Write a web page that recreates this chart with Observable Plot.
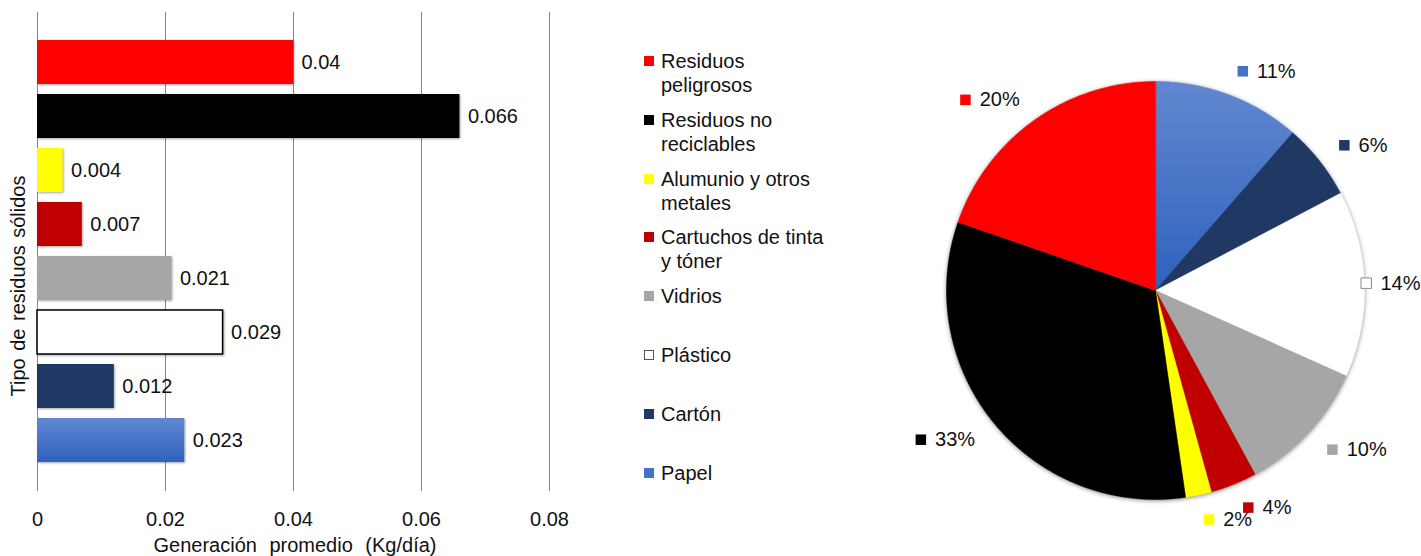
<!DOCTYPE html>
<html>
<head>
<meta charset="utf-8">
<script src="https://cdn.jsdelivr.net/npm/d3@7"></script>
<script src="https://cdn.jsdelivr.net/npm/@observablehq/plot@0.6"></script>
<style>
  body { margin: 0; background: #fff; font-family: "Liberation Sans", Arial, sans-serif; color: #111; }
  #wrap { position: relative; width: 1421px; height: 556px; overflow: hidden; background: #fff; }
  .abs { position: absolute; }
  .ytitle { font-size: 20px; white-space: nowrap; word-spacing: 2px; transform: translate(-50%, -50%) rotate(-90deg); }
  .xtitle { font-size: 20px; white-space: nowrap; word-spacing: 7px; transform: translate(-50%, -50%); }
  .legend-item { position: absolute; font-size: 20px; line-height: 24px; padding-left: 17px; }
  .legend-item .sw { position: absolute; left: 0; top: 7px; width: 10px; height: 10px; box-sizing: border-box; }
</style>
</head>
<body>
<svg width="0" height="0" style="position:absolute">
  <defs>
    <linearGradient id="papelGrad" x1="0" y1="0" x2="0" y2="1">
      <stop offset="0" stop-color="#6287D0"></stop>
      <stop offset="1" stop-color="#2E62BE"></stop>
    </linearGradient>
  </defs>
</svg>
<div id="wrap"></div>
<script>
// ---------- data ----------
const categories = ["Residuos peligrosos", "Residuos no reciclables", "Alumunio y otros metales", "Cartuchos de tinta y tóner", "Vidrios", "Plástico", "Cartón", "Papel"];
const legendLines = [["Residuos", "peligrosos"], ["Residuos no", "reciclables"], ["Alumunio y otros", "metales"], ["Cartuchos de tinta", "y tóner"], ["Vidrios"], ["Plástico"], ["Cartón"], ["Papel"]];
const values = [0.04, 0.066, 0.004, 0.007, 0.021, 0.029, 0.012, 0.023];
const valueLabels = ["0.04", "0.066", "0.004", "0.007", "0.021", "0.029", "0.012", "0.023"];
const fills = ["#FF0000", "#000000", "#FFFF00", "#C00000", "#A6A6A6", "#FFFFFF", "#203864", "url(#papelGrad)"];
const legendFills = ["#FF0000", "#000000", "#FFFF00", "#C00000", "#A6A6A6", "#FFFFFF", "#203864", "#4472C4"];
const xTicks = [0, 0.02, 0.04, 0.06, 0.08];
const xTickLabels = ["0", "0.02", "0.04", "0.06", "0.08"];
const xTitle = "Generación promedio (Kg/día)";
const yTitle = "Tipo de residuos sólidos";

// pie (clockwise from 12 o'clock)
const pieOrder = ["Papel", "Cartón", "Plástico", "Vidrios", "Cartuchos de tinta y tóner", "Alumunio y otros metales", "Residuos no reciclables", "Residuos peligrosos"];
const pieShares = [11.4, 5.9, 14.4, 10.4, 3.6, 2.0, 32.6, 19.7];
const pieLabels = ["11%", "6%", "14%", "10%", "4%", "2%", "33%", "20%"];

const FONT = "Liberation Sans, Arial, sans-serif";
const wrap = document.getElementById("wrap");

// ---------- bar chart ----------
const barData = categories.map((c, i) => ({cat: c, v: values[i], label: valueLabels[i], fill: fills[i], stroke: c === "Plástico" ? "#000000" : "none"}));
const bar = Plot.plot({
  width: 600, height: 556,
  marginLeft: 37, marginRight: 51, marginTop: 12, marginBottom: 65,
  style: {fontFamily: FONT, fontSize: "20px", color: "#111", background: "transparent", overflow: "visible"},
  x: {domain: [0, 0.08]},
  y: {domain: categories, paddingInner: 0.176, paddingOuter: 0.47, axis: null},
  color: {type: "identity"},
  marks: [
    Plot.gridX(xTicks, {stroke: "#858585", strokeOpacity: 1, strokeWidth: 1}),
    Plot.axisX(xTicks, {tickSize: 0, tickPadding: 20, fontSize: 20, label: null, tickFormat: d => xTickLabels[xTicks.indexOf(d)]}),
    Plot.barX(barData, {x: "v", y: "cat", fill: "fill", stroke: "stroke", strokeWidth: 1.5}),
    Plot.text(barData, {x: "v", y: "cat", text: "label", dx: 8, textAnchor: "start", fontSize: 20, fill: "#111"})
  ]
});
bar.classList.add("abs");
bar.style.left = "0px"; bar.style.top = "0px";
wrap.appendChild(bar);
bar.querySelectorAll('g[aria-label="bar"]').forEach(g => g.style.filter = "drop-shadow(1.5px 1.5px 1px rgba(0,0,0,0.35))");

const yt = document.createElement("div");
yt.className = "abs ytitle"; yt.textContent = yTitle;
yt.style.left = "18px"; yt.style.top = "286px";
wrap.appendChild(yt);
const xt = document.createElement("div");
xt.className = "abs xtitle"; xt.textContent = xTitle;
xt.style.left = "295px"; xt.style.top = "545px";
wrap.appendChild(xt);

// ---------- legend ----------
categories.forEach((c, i) => {
  const item = document.createElement("div");
  item.className = "legend-item";
  item.style.left = "644px";
  item.style.top = (49 + i * 58.8) + "px";
  const sw = document.createElement("span");
  sw.className = "sw";
  sw.style.background = legendFills[i];
  if (c === "Plástico") sw.style.border = "1px solid #555";
  item.appendChild(sw);
  item.insertAdjacentHTML("beforeend", legendLines[i].join("<br>"));
  wrap.appendChild(item);
});

// ---------- pie ----------
const PW = 541, PH = 556, CX = 275, CY = 290, R = 209;
const pieFill = pieOrder.map(c => fills[categories.indexOf(c)]);
const pieMarker = pieOrder.map(c => legendFills[categories.indexOf(c)]);
const arcs = d3.pie().sort(null)(pieShares);
const slicePts = [];
arcs.forEach((a, i) => {
  const n = Math.max(2, Math.ceil((a.endAngle - a.startAngle) / 0.01));
  slicePts.push({k: i, x: 0, y: 0});
  for (let j = 0; j <= n; j++) {
    const t = a.startAngle + (a.endAngle - a.startAngle) * j / n;
    slicePts.push({k: i, x: R * Math.sin(t), y: -R * Math.cos(t)});
  }
});
const ctx = document.createElement("canvas").getContext("2d");
ctx.font = "20px 'Liberation Sans', Arial, sans-serif";
const RA = R * 1.12, MARK = 10.5, GAP = 9;
const pieLab = arcs.map((a, i) => {
  const m = (a.startAngle + a.endAngle) / 2;
  const ax = RA * Math.sin(m), ay = -RA * Math.cos(m);
  const w = ctx.measureText(pieLabels[i]).width;
  const box = MARK + GAP + w;
  let left = Math.sin(m) >= 0 ? ax : ax - box;
  left = Math.min(left, (PW - CX) - box - 1);
  return {mx: left + MARK / 2, tx: left + MARK + GAP, y: ay, t: pieLabels[i], f: pieMarker[i], s: pieOrder[i] === "Plástico" ? "#8a8a8a" : "none"};
});
const pie = Plot.plot({
  width: PW, height: PH, margin: 0,
  style: {fontFamily: FONT, fontSize: "20px", color: "#111", background: "transparent", overflow: "visible"},
  x: {domain: [-CX, PW - CX], range: [0, PW], axis: null},
  y: {domain: [-CY, PH - CY], range: [0, PH], axis: null},
  color: {type: "identity"},
  marks: [
    Plot.line(slicePts, {x: "x", y: "y", z: "k", fill: d => pieFill[d.k], stroke: d => pieFill[d.k], strokeWidth: 0.5, curve: "linear-closed"}),
    Plot.dot(pieLab, {x: "mx", y: "y", symbol: "square", r: MARK / Math.sqrt(Math.PI), fill: "f", stroke: "s", strokeWidth: 1}),
    Plot.text(pieLab, {x: "tx", y: "y", text: "t", textAnchor: "start", fontSize: 20, fill: "#111"})
  ]
});
pie.classList.add("abs");
pie.style.left = "880px"; pie.style.top = "0px";
wrap.appendChild(pie);
pie.querySelectorAll('g[aria-label="line"]').forEach(g => g.style.filter = "drop-shadow(0px 1.5px 2px rgba(0,0,0,0.45))");
</script>
</body>
</html>
